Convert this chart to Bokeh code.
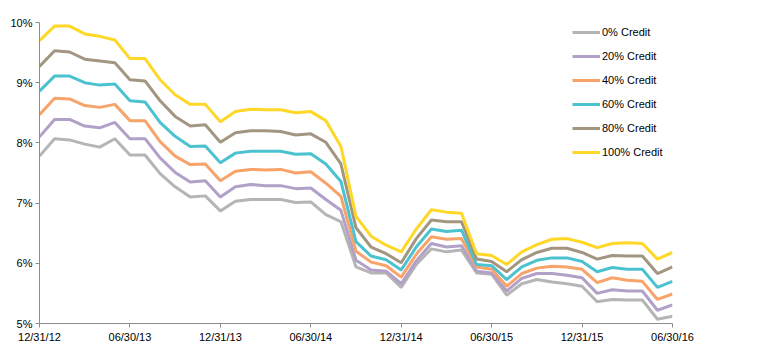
from bokeh.plotting import figure
from bokeh.models import Range1d, Legend, LegendItem, FixedTicker, NumeralTickFormatter
from bokeh.embed import file_html
from bokeh.resources import INLINE

tick_labels = ["12/31/12", "06/30/13", "12/31/13", "06/30/14", "12/31/14", "06/30/15", "12/31/15", "06/30/16"]
series_names = ["0% Credit", "20% Credit", "40% Credit", "60% Credit", "80% Credit", "100% Credit"]

credit_0 = [7.78, 8.07, 8.05, 7.98, 7.93, 8.07, 7.80, 7.80, 7.49, 7.27, 7.10, 7.12, 6.87, 7.03, 7.06, 7.06,
            7.06, 7.01, 7.02, 6.81, 6.69, 5.94, 5.84, 5.84, 5.60, 5.98, 6.24, 6.19, 6.22, 5.84, 5.82, 5.47,
            5.66, 5.73, 5.69, 5.66, 5.62, 5.36, 5.40, 5.39, 5.39, 5.07, 5.12]
credit_20 = [8.10, 8.39, 8.39, 8.28, 8.25, 8.34, 8.07, 8.07, 7.75, 7.51, 7.35, 7.37, 7.10, 7.27, 7.31, 7.29,
             7.29, 7.24, 7.25, 7.06, 6.88, 6.05, 5.89, 5.87, 5.66, 6.04, 6.33, 6.27, 6.29, 5.87, 5.84, 5.54,
             5.75, 5.83, 5.83, 5.80, 5.76, 5.50, 5.56, 5.54, 5.54, 5.22, 5.31]
credit_40 = [8.47, 8.74, 8.73, 8.62, 8.59, 8.64, 8.37, 8.37, 8.02, 7.78, 7.64, 7.65, 7.37, 7.53, 7.56, 7.55,
             7.56, 7.50, 7.52, 7.33, 7.11, 6.20, 6.02, 5.96, 5.77, 6.15, 6.44, 6.40, 6.41, 5.94, 5.90, 5.62,
             5.83, 5.92, 5.95, 5.94, 5.90, 5.68, 5.76, 5.72, 5.70, 5.40, 5.49]
credit_60 = [8.86, 9.11, 9.11, 9.00, 8.96, 8.98, 8.70, 8.68, 8.34, 8.11, 7.94, 7.95, 7.67, 7.83, 7.86, 7.86,
             7.86, 7.81, 7.82, 7.65, 7.36, 6.36, 6.12, 6.06, 5.89, 6.27, 6.57, 6.53, 6.55, 5.98, 5.96, 5.73,
             5.94, 6.05, 6.09, 6.09, 6.03, 5.86, 5.93, 5.90, 5.90, 5.60, 5.70]
credit_80 = [9.27, 9.53, 9.51, 9.39, 9.36, 9.33, 9.05, 9.03, 8.70, 8.44, 8.28, 8.30, 8.01, 8.17, 8.20, 8.20,
             8.19, 8.13, 8.15, 8.01, 7.65, 6.59, 6.27, 6.16, 6.01, 6.41, 6.72, 6.69, 6.69, 6.07, 6.03, 5.86,
             6.06, 6.18, 6.25, 6.25, 6.18, 6.07, 6.13, 6.12, 6.12, 5.83, 5.94]
credit_100 = [9.70, 9.94, 9.94, 9.81, 9.77, 9.71, 9.40, 9.40, 9.05, 8.80, 8.64, 8.64, 8.35, 8.52, 8.56, 8.55,
              8.55, 8.50, 8.52, 8.37, 7.94, 6.78, 6.45, 6.30, 6.19, 6.57, 6.89, 6.85, 6.83, 6.16, 6.13, 5.98,
              6.19, 6.31, 6.40, 6.41, 6.35, 6.26, 6.33, 6.34, 6.33, 6.07, 6.18]

all_series = [credit_0, credit_20, credit_40, credit_60, credit_80, credit_100]
colors = ["#B5B5B5", "#B1A0C7", "#F8A36A", "#4BC2CF", "#A29681", "#FFD727"]

months = list(range(len(credit_0)))
tick_positions = list(range(0, len(credit_0), 6))

p = figure(width=783, height=352, output_backend="svg", toolbar_location=None,
           x_range=Range1d(0, months[-1]), y_range=Range1d(5, 10),
           min_border_left=39, min_border_right=111, min_border_top=22, min_border_bottom=29)
p.outline_line_color = None
p.background_fill_color = "white"
p.border_fill_color = "white"
p.xgrid.visible = False
p.ygrid.visible = False

font = "Liberation Sans"
axis_color = "#8C8C8C"

p.xaxis.ticker = FixedTicker(ticks=tick_positions)
p.xaxis.major_label_overrides = {t: lab for t, lab in zip(tick_positions, tick_labels)}
p.yaxis.ticker = FixedTicker(ticks=[5, 6, 7, 8, 9, 10])
p.yaxis.major_label_overrides = {v: f"{v}%" for v in [5, 6, 7, 8, 9, 10]}
for ax in [p.xaxis[0], p.yaxis[0]]:
    ax.axis_line_color = axis_color
    ax.major_tick_line_color = axis_color
    ax.minor_tick_line_color = None
    ax.major_tick_in = 0
    ax.major_tick_out = 4
    ax.major_label_text_font = font
    ax.major_label_text_font_size = "11px"
    ax.major_label_text_color = "black"
    ax.major_label_standoff = 3

renderers = []
for vals, col in zip(all_series, colors):
    r = p.line(months, vals, line_color=col, line_width=3)
    renderers.append(r)

legend = Legend(items=[LegendItem(label=n, renderers=[r]) for n, r in zip(series_names, renderers)],
                location=(533, 161), orientation="vertical")
legend.label_text_font = font
legend.label_text_font_size = "11px"
legend.label_text_color = "black"
legend.glyph_width = 28
legend.glyph_height = 20
legend.label_height = 20
legend.spacing = 4
legend.padding = 0
legend.margin = 0
legend.label_standoff = 2
legend.border_line_color = None
legend.background_fill_alpha = 0
p.add_layout(legend)

open("out.html", "w").write(file_html(p, INLINE))
